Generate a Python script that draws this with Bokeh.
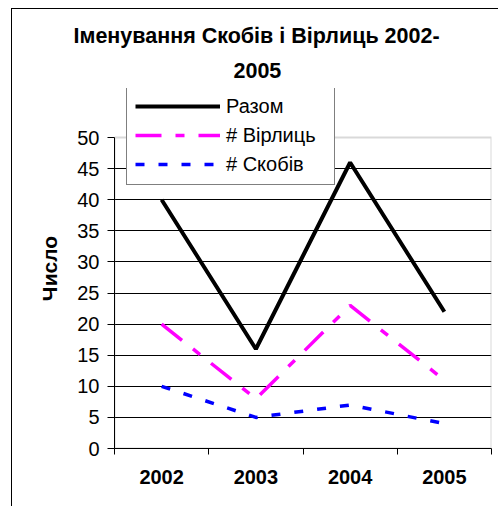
from bokeh.plotting import figure
from bokeh.models import FixedTicker, Range1d, Legend, LegendItem, Title, BoxAnnotation
from bokeh.embed import file_html
from bokeh.resources import INLINE

# ---- data ----
years = ["2002", "2003", "2004", "2005"]
total = [40, 16, 46, 22]
virlyts = [20, 8, 23, 11]
skobiv = [10, 5, 7, 4]
y_ticks = [0, 5, 10, 15, 20, 25, 30, 35, 40, 45, 50]
title_line1 = "Іменування Скобів і Вірлиць 2002-"
title_line2 = "2005"
y_label = "Число"
series_names = ["Разом", "# Вірлиць", "# Скобів"]

xs = list(range(1, len(years) + 1))
FONT = "Liberation Sans"

# frame covers the value axis plus room above it for the legend box
p = figure(width=487, height=498, output_backend="svg", toolbar_location=None,
           title=None,
           x_range=Range1d(0.5, len(years) + 0.5), y_range=Range1d(0, 57.9),
           min_border_left=102, min_border_right=8, min_border_top=79,
           min_border_bottom=59)
p.styles = {"margin-left": "11px", "margin-top": "8px",
            "border-left": "1px solid black", "border-top": "1px solid black"}

p.background_fill_color = "white"
p.border_fill_color = "white"
p.outline_line_color = None

# titles (two centred lines)
t2 = Title(text=title_line2, align="left", offset=119, standoff=21,
           text_font=FONT, text_font_size="21.5px", text_font_style="bold",
           text_color="black")
t1 = Title(text=title_line1, align="left", offset=-41, standoff=6,
           text_font=FONT, text_font_size="21.5px", text_font_style="bold",
           text_color="black")
p.add_layout(t2, "above")
p.add_layout(t1, "above")

# plot-area border (grey) around the value region
p.add_layout(BoxAnnotation(bottom=y_ticks[0], top=y_ticks[-1], fill_alpha=0,
                           line_color="#808080", line_width=2, level="underlay"))

# grid
p.xgrid.visible = False
p.ygrid.ticker = FixedTicker(ticks=y_ticks[:-1])
p.ygrid.grid_line_color = "black"
p.ygrid.grid_line_width = 1

# y axis
yax = p.yaxis[0]
yax.ticker = FixedTicker(ticks=y_ticks)
yax.bounds = (y_ticks[0], y_ticks[-1])
yax.axis_label = y_label
yax.axis_label_text_font = FONT
yax.axis_label_text_font_size = "21px"
yax.axis_label_text_font_style = "bold"
yax.axis_label_text_color = "black"
yax.axis_label_standoff = 13
yax.major_label_text_font = FONT
yax.major_label_text_font_size = "20px"
yax.major_label_text_color = "black"
yax.major_label_standoff = 8
yax.major_tick_out = 7
yax.major_tick_in = 0
yax.minor_tick_out = 0
yax.minor_tick_in = 0
yax.axis_line_color = "black"
yax.major_tick_line_color = "black"

# x axis
xax = p.xaxis[0]
xax.ticker = FixedTicker(ticks=xs, minor_ticks=[x - 0.5 for x in xs] + [xs[-1] + 0.5])
xax.major_label_overrides = {x: y for x, y in zip(xs, years)}
xax.major_label_text_font = FONT
xax.major_label_text_font_size = "20px"
xax.major_label_text_font_style = "bold"
xax.major_label_text_color = "black"
xax.major_label_standoff = 15
xax.major_tick_out = 0
xax.major_tick_in = 0
xax.minor_tick_out = 6
xax.minor_tick_in = 0
xax.minor_tick_line_color = "black"
xax.axis_line_color = "black"

r1 = p.line(xs, total, line_color="black", line_width=4)
r2 = p.line(xs, virlyts, line_color="#FF00FF", line_width=3.5, line_dash="26 14 9 14")
r3 = p.line(xs, skobiv, line_color="#0000FF", line_width=3.5, line_dash="9 14")

legend = Legend(items=[LegendItem(label=series_names[0], renderers=[r1]),
                       LegendItem(label=series_names[1], renderers=[r2]),
                       LegendItem(label=series_names[2], renderers=[r3])],
                location=(12, 263))
legend.label_text_font = FONT
legend.label_text_font_size = "20px"
legend.label_text_color = "black"
legend.border_line_color = "black"
legend.border_line_width = 1
legend.background_fill_color = "white"
legend.background_fill_alpha = 1
legend.padding = 8
legend.spacing = 5
legend.glyph_width = 85
legend.glyph_height = 24
legend.label_height = 24
legend.label_width = 100
legend.label_standoff = 6
legend.margin = 0
p.add_layout(legend, "center")

open("out.html", "w").write(file_html(p, INLINE))
